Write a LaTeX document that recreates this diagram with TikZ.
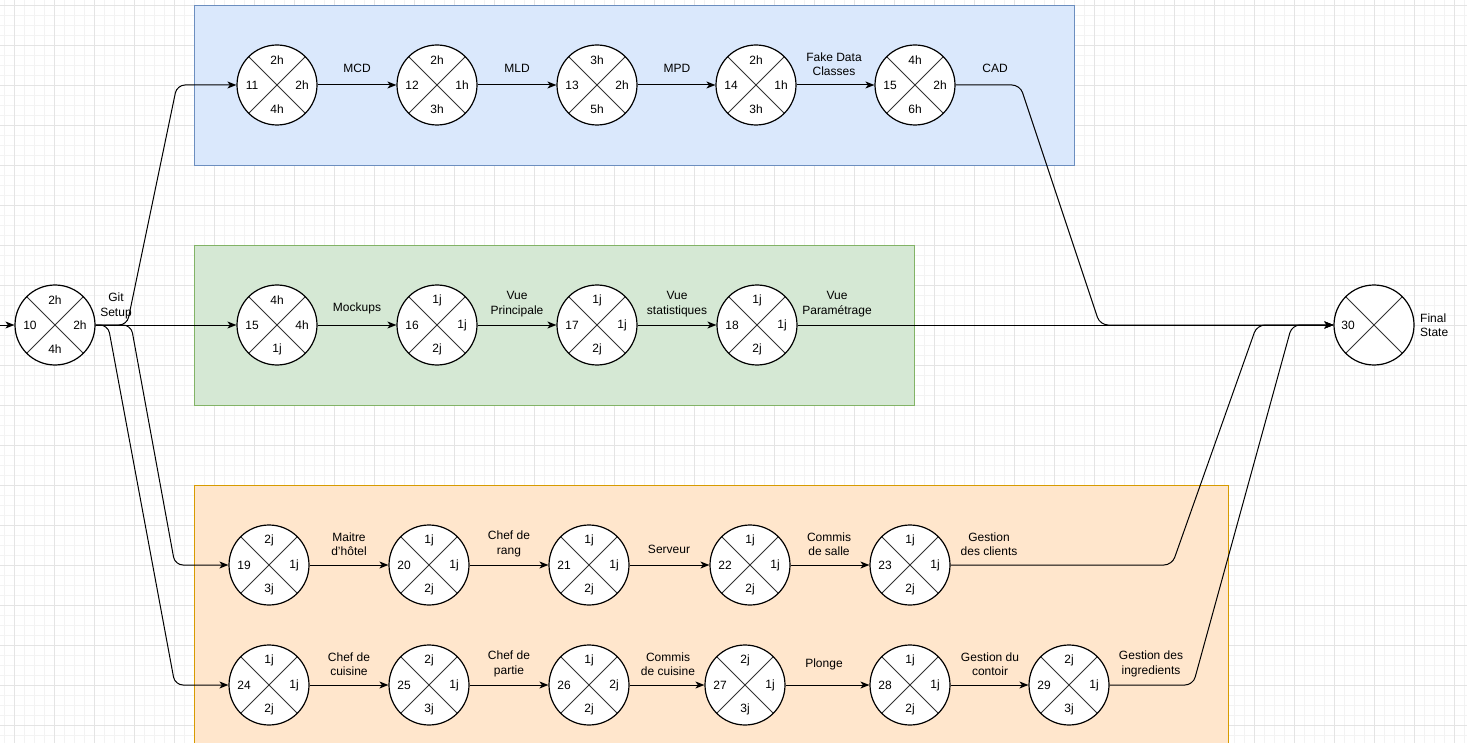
\documentclass[tikz,border=0pt]{standalone}
\usepackage{fontspec}
\setmainfont{Liberation Sans}
\usetikzlibrary{arrows.meta}
\definecolor{gridmin}{HTML}{F3F3F3}
\definecolor{gridmaj}{HTML}{E4E4E4}
\definecolor{bluefill}{HTML}{DAE8FC}
\definecolor{bluedraw}{HTML}{6C8EBF}
\definecolor{greenfill}{HTML}{D5E8D4}
\definecolor{greendraw}{HTML}{82B366}
\definecolor{orangefill}{HTML}{FFE6CC}
\definecolor{orangedraw}{HTML}{D79B00}

\begin{document}
\begin{tikzpicture}[x=1pt, y=-1pt, >={Stealth[length=9pt, width=7pt, inset=2.5pt]},
    font=\fontsize{12}{14.4}\selectfont,
    event/.style={circle, draw, line width=1.2pt, fill=white, minimum size=80pt, inner sep=0pt,
      path picture={\draw[line width=.8pt, black!80]
        (path picture bounding box.north west) -- (path picture bounding box.south east)
        (path picture bounding box.north east) -- (path picture bounding box.south west);}},
    task/.style={align=center, inner sep=0pt},
    flow/.style={->, line width=1pt, rounded corners=8pt}]
    \clip (0, 0) rectangle (1467, 743);
    \fill [white] (0, 0) rectangle (1467, 743);
    \foreach \gx in {4, 14, ..., 1464} \draw [gridmin] (\gx, 0) -- (\gx, 743);
    \foreach \gy in {5, 15, ..., 735} \draw [gridmin] (0, \gy) -- (1467, \gy);
    \foreach \gx in {14, 54, ..., 1454} \draw [gridmaj] (\gx, 0) -- (\gx, 743);
    \foreach \gy in {5, 45, ..., 725} \draw [gridmaj] (0, \gy) -- (1467, \gy);
    \filldraw [fill=bluefill, draw=bluedraw] (194, 5) rectangle (1074, 165);
    \filldraw [fill=greenfill, draw=greendraw] (194, 245) rectangle (914, 405);
    \filldraw [fill=orangefill, draw=orangedraw] (194, 485) rectangle (1228, 760);
    % events: name/x/y/top/right/bottom/number
    \foreach \nm/\x/\y/\t/\r/\b/\l in {n10/55/325/2h/2h/4h/10,
      n11/277/85/2h/2h/4h/11, n12/437/85/2h/1h/3h/12, n13/597/85/3h/2h/5h/13,
      n14/756/85/2h/1h/3h/14, n15/915/85/4h/2h/6h/15,
      n15v/277/325/4h/4h/1j/15, n16/437/325/1j/1j/2j/16, n17/597/325/1j/1j/2j/17,
      n18/757/325/1j/1j/2j/18,
      n19/269/565/2j/1j/3j/19, n20/429/565/1j/1j/2j/20, n21/589/565/1j/1j/2j/21,
      n22/750/565/1j/1j/2j/22, n23/910/565/1j/1j/2j/23,
      n24/269/685/1j/1j/2j/24, n25/429/685/2j/1j/3j/25, n26/589/685/1j/2j/2j/26,
      n27/745/685/2j/1j/3j/27, n28/910/685/1j/1j/2j/28, n29/1069/685/2j/1j/3j/29} {
      \node [event] (\nm) at (\x, \y) {};
      \node [task] (\nm-t) at (\x, \y-25) {\t};
      \node [task] (\nm-r) at (\x+25, \y) {\r};
      \node [task] (\nm-b) at (\x, \y+24) {\b};
      \node [task] (\nm-l) at (\x-25, \y) {\l};
    }
    \node [event] (n30) at (1374, 325) {};
    \node [task] (n30-l) at (1348, 325) {30};
    \node [task, anchor=west, align=left] (final) at (1420, 325) {Final\\State};
    % straight links and their labels
    \foreach \a/\b/\lx/\ly/\txt in {n11/n12/357/68/MCD, n12/n13/517/68/MLD,
      n13/n14/677/68/MPD, n14/n15/834/64/{Fake Data\\Classes},
      n10/n15v/116/306/{Git\\Setup}, n15v/n16/357/308/Mockups,
      n16/n17/517/304/{Vue\\Principale}, n17/n18/677/304/{Vue\\statistiques},
      n18/n30/837/304/{Vue\\Paramétrage},
      n19/n20/349/544/{Maitre\\d'hôtel}, n20/n21/509/544/{Chef de\\rang},
      n21/n22/669/549/Serveur, n22/n23/829/544/{Commis\\de salle},
      n24/n25/349/664/{Chef de\\cuisine}, n25/n26/509/664/{Chef de\\partie},
      n26/n27/668/664/{Commis\\de cuisine}, n27/n28/824/664/Plonge,
      n28/n29/990/664/{Gestion du\\contoir}} {
      \draw [flow] (\a) -- (\b);
      \node [task] (l-\a) at (\lx, \ly) {\txt};
    }
    \coordinate (start) at (0, 325);
    \draw [flow] (start) -- (n10);
    % bent links
    \draw [flow] (n10.east) -- (127, 325) -- (177, 85) -- (n11.west);
    \draw [flow] (n10.east) -- (131, 325) -- (175, 565) -- (n19.west);
    \draw [flow] (n10.east) -- (108, 325) -- (175, 685) -- (n24.west);
    \draw [flow] (n15.east) -- (1020, 85) -- (1100, 325) -- (n30.west);
    \draw [flow] (n23.east) -- (1172, 565) -- (1257, 325) -- (n30.west);
    \draw [flow] (n29.east) -- (1193, 685) -- (1292, 325) -- (n30.west);
    \node [task] (l-n15) at (995, 68) {CAD};
    \node [task] (l-n23) at (989, 544) {Gestion\\des clients};
    \node [task] (l-n29) at (1151, 664) {Gestion des\\ingredients};
\end{tikzpicture}
\end{document}
